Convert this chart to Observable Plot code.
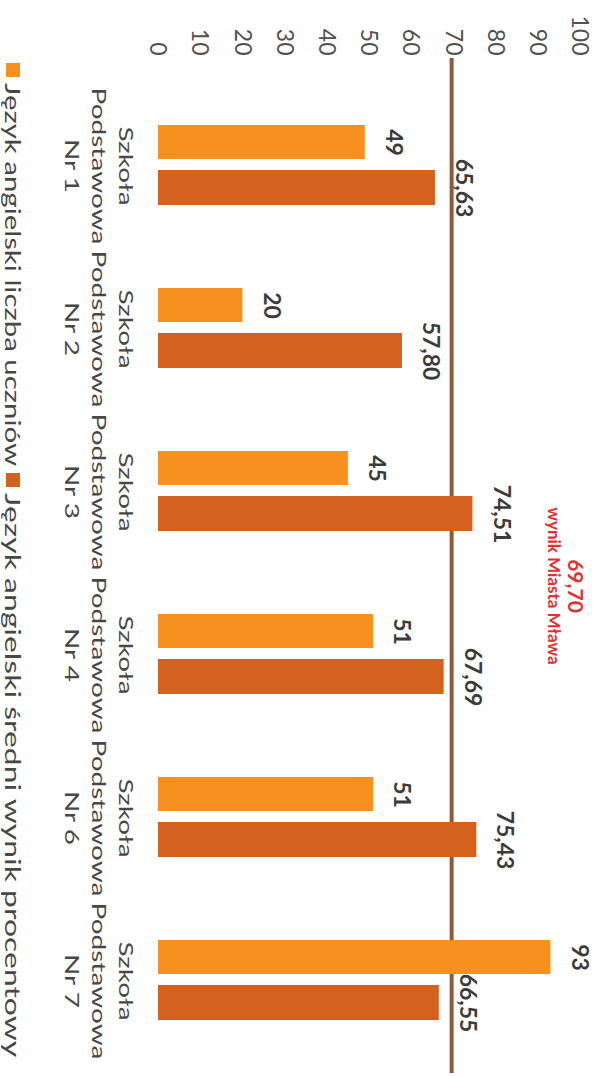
<!DOCTYPE html>
<html>
<head>
<meta charset="utf-8">
<script src="https://cdn.jsdelivr.net/npm/d3@7"></script>
<script src="https://cdn.jsdelivr.net/npm/@observablehq/plot@0.6"></script>
<style>
  html, body { margin: 0; padding: 0; background: #fff; }
  #page { width: 606px; height: 1076px; overflow: hidden; position: relative; background: #fff; }
  #rot {
    position: absolute; left: 0; top: 0; width: 1076px; height: 606px;
    transform-origin: 0 0; transform: translate(606px, 0) rotate(90deg);
    font-family: Lato, "Open Sans", sans-serif; color: #4a4a4a;
  }
  #chart svg { display: block; }
  #legend {
    display: flex; align-items: center; height: 22px; margin-top: -2px; padding-left: 63px;
    font-size: 21px; line-height: 22px; white-space: nowrap; color: #474747;
  }
  #legend .sw { width: 14px; height: 14px; display: inline-block; margin-right: 6px; flex: none; }
  #legend .item { display: flex; align-items: center; margin-right: 6px; }
  #legend .txt { display: inline-block; overflow: visible; }
  #legend .txt span { display: inline-block; transform-origin: 0 50%; }
</style>
</head>
<body>
<div id="page"><div id="rot"><div id="chart"></div><div id="legend"></div></div></div>
<script>
// ---- data ----
const schools = ["Szkoła Podstawowa Nr 1", "Szkoła Podstawowa Nr 2", "Szkoła Podstawowa Nr 3",
                 "Szkoła Podstawowa Nr 4", "Szkoła Podstawowa Nr 6", "Szkoła Podstawowa Nr 7"];
const schoolLabels = ["Szkoła\nPodstawowa\nNr 1", "Szkoła\nPodstawowa\nNr 2", "Szkoła\nPodstawowa\nNr 3",
                      "Szkoła\nPodstawowa\nNr 4", "Szkoła\nPodstawowa\nNr 6", "Szkoła\nPodstawowa\nNr 7"];
const studentCounts = [49, 20, 45, 51, 51, 93];
const countLabels = ["49", "20", "45", "51", "51", "93"];
const averageScores = [65.63, 57.80, 74.51, 67.69, 75.43, 66.55];
const scoreLabels = ["65,63", "57,80", "74,51", "67,69", "75,43", "66,55"];
const cityAverage = 69.70;
const cityAverageLabel = "69,70";
const cityAverageCaption = "wynik Miasta Mława";
const yTicks = [0, 10, 20, 30, 40, 50, 60, 70, 80, 90, 100];
const seriesNames = ["Język angielski liczba uczniów", "Język angielski średni wynik procentowy"];
const seriesColors = ["#f7901e", "#d5611f"];
const lineColor = "#8c5b3e";
const noteColor = "#e0312f";
const textStretch = 1.4;            // the original typeface is much wider than Lato
const legendStretch = [1.4, 1.52];

// ---- tables ----
const countData = schools.map((s, i) => ({school: s, value: studentCounts[i], label: countLabels[i]}));
const scoreData = schools.map((s, i) => ({school: s, value: averageScores[i], label: scoreLabels[i]}));
const labelData = schools.map((s, i) => ({school: s, label: schoolLabels[i]}));

const H = 584;
const chart = Plot.plot({
  width: 1076,
  height: H,
  marginTop: 26,
  marginBottom: H - 448,
  marginLeft: 58,
  marginRight: 3,
  style: {fontFamily: "Lato, 'Open Sans', sans-serif", fontSize: "23px", color: "#505050", background: "transparent", overflow: "visible"},
  x: {domain: schools, range: [81, 1064], padding: 0, axis: null},
  y: {domain: [0, 100], axis: null},
  marks: [
    Plot.axisY({ticks: yTicks, tickSize: 0, tickPadding: 3, fontSize: 23, label: null}),
    Plot.ruleY([cityAverage], {stroke: lineColor, strokeWidth: 4}),
    Plot.barY(countData, {x: "school", y: "value", fill: seriesColors[0], insetLeft: 41, insetRight: 88}),
    Plot.barY(scoreData, {x: "school", y: "value", fill: seriesColors[1], insetLeft: 86, insetRight: 42}),
    Plot.text(countData, {x: "school", y: "value", text: "label", dx: -23.5, dy: -29, fontSize: 23, fontWeight: "bold", fill: "#3b3b3b"}),
    Plot.text(scoreData, {x: "school", y: "value", text: "label", dx: 22, dy: -29, fontSize: 23, fontWeight: "bold", fill: "#3b3b3b"}),
    Plot.text(labelData, {x: "school", text: "label", frameAnchor: "bottom", lineAnchor: "top", dy: 19, fontSize: 20, lineHeight: 1.35, fill: "#474747"}),
    Plot.text([cityAverageLabel], {frameAnchor: "top", lineAnchor: "top", dx: 20, dy: -3, fontSize: 21, fontWeight: "bold", fill: noteColor}),
    Plot.text([cityAverageCaption], {frameAnchor: "top", lineAnchor: "top", dx: 20, dy: 19, fontSize: 17, fontWeight: "bold", fill: noteColor})
  ]
});
document.getElementById("chart").appendChild(chart);

// widen the category labels to imitate the wide original typeface
const textGroups = chart.querySelectorAll('g[aria-label="text"]');
if (textGroups.length >= 3) {
  textGroups[2].querySelectorAll("text").forEach(t => {
    const tr = t.getAttribute("transform") || "";
    t.setAttribute("transform", tr + ` scale(${textStretch},1)`);
  });
}

// ---- legend ----
const legend = document.getElementById("legend");
seriesNames.forEach((name, i) => {
  const item = document.createElement("div");
  item.className = "item";
  const sw = document.createElement("span");
  sw.className = "sw";
  sw.style.background = seriesColors[i];
  const outer = document.createElement("span");
  outer.className = "txt";
  const inner = document.createElement("span");
  inner.textContent = name;
  outer.appendChild(inner);
  item.appendChild(sw);
  item.appendChild(outer);
  legend.appendChild(item);
  const w = inner.offsetWidth;
  inner.style.transform = `scaleX(${legendStretch[i]})`;
  outer.style.width = (w * legendStretch[i]) + "px";
});
</script>
</body>
</html>
